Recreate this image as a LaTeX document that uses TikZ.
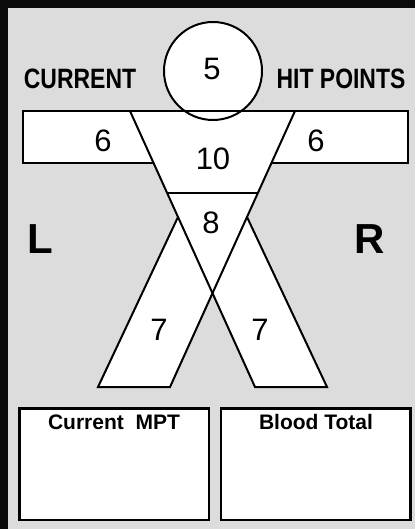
\documentclass[tikz,border=0pt]{standalone}
\usepackage{fontspec}
\setmainfont{Liberation Sans}
\newfontfamily\narrowsans[FakeStretch=0.82]{Liberation Sans}
\definecolor{bggray}{HTML}{DCDCDC}
\definecolor{frameblack}{HTML}{0A0A0A}
\begin{document}
\begin{tikzpicture}[x=1pt,y=-1pt,
  bodyline/.style={draw=black,line width=2pt,line join=miter},
  boxline/.style={draw=black,fill=white,line width=2.6pt},
  bigtitle/.style={font=\narrowsans\fontsize{28}{28}\selectfont\bfseries,anchor=base,inner sep=0pt},
  numlabel/.style={font=\fontsize{31}{31}\selectfont,anchor=base,inner sep=0pt},
  sidelabel/.style={font=\fontsize{42}{42}\selectfont\bfseries,anchor=base,inner sep=0pt},
  boxtitle/.style={font=\fontsize{21}{21}\selectfont\bfseries,anchor=base,inner sep=0pt}]
\useasboundingbox (0,0) rectangle (415,529);
% frame and background
\fill[frameblack] (0,0) rectangle (415,529);
\fill[bggray] (8,8) rectangle (415,529);
% key points
\coordinate (tl) at (130,111);
\coordinate (tr) at (295,111);
\coordinate (rlin) at (255,387);
\coordinate (llin) at (170,387);
\coordinate (lout) at (98,387);
\coordinate (rout) at (327,387);
\coordinate (louttop) at (178,217);
\coordinate (routtop) at (247,217);
\coordinate (cross) at (212.5,293.2);
\coordinate (waistl) at (167.1,193);
\coordinate (waistr) at (257.9,193);
\coordinate (barl) at (153.4,162.7);
\coordinate (barr) at (271.6,162.7);
\coordinate (headc) at (213,71);
% white fills
\fill[white] (22.7,111) rectangle (408.3,162.7);
\fill[white] (tl) -- (tr) -- (cross) -- cycle;
\fill[white] (louttop) -- (lout) -- (llin) -- (routtop) -- cycle;
\fill[white] (routtop) -- (rout) -- (rlin) -- (louttop) -- cycle;
\fill[white] (headc) circle[radius=49];
% outlines
\draw[bodyline] (headc) circle[radius=49];
\draw[bodyline] (barl) -- (22.7,162.7) -- (22.7,111) -- (408.3,111) -- (408.3,162.7) -- (barr);
\draw[bodyline] (tl) -- (rlin) -- (rout) -- (routtop);
\draw[bodyline] (tr) -- (llin) -- (lout) -- (louttop);
\draw[bodyline] (waistl) -- (waistr);
% bottom boxes
\draw[boxline] (19.5,408.5) rectangle (209,520);
\draw[boxline] (221,408.5) rectangle (410.5,520);
% labels
\node[bigtitle] (cur) at (80,89) {CURRENT};
\node[bigtitle] (hp) at (341,89) {HIT POINTS};
\node[numlabel] (head) at (212,80) {5};
\node[numlabel] (larm) at (103,151.7) {6};
\node[numlabel] (rarm) at (316,151.7) {6};
\node[numlabel] (chest) at (213,170) {10};
\node[numlabel] (groin) at (211,233.3) {8};
\node[numlabel] (lleg) at (159,340) {7};
\node[numlabel] (rleg) at (260,340) {7};
\node[sidelabel] (lside) at (40,253.3) {L};
\node[sidelabel] (rside) at (370,253.3) {R};
\node[boxtitle] (mpt) at (114,429.3) {Current\ \ MPT};
\node[boxtitle] (blood) at (316,429.3) {Blood Total};
\end{tikzpicture}
\end{document}
